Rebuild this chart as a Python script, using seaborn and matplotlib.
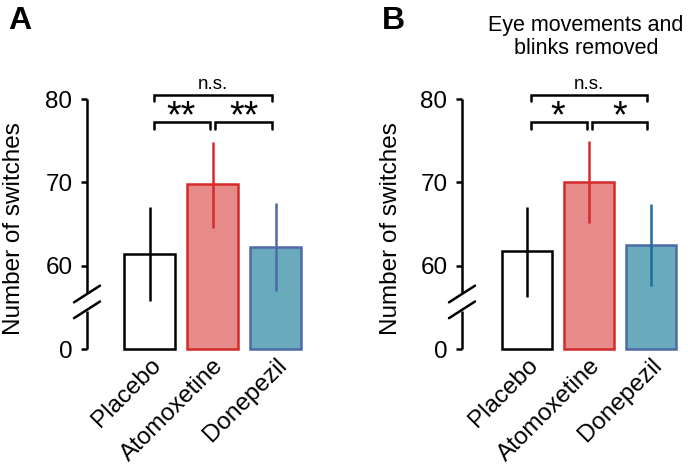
import matplotlib
matplotlib.use("Agg")
import matplotlib.pyplot as plt
import seaborn as sns
import numpy as np

# ---------------- data ----------------
categories = ["Placebo", "Atomoxetine", "Donepezil"]
means_a = [61.4, 69.8, 62.2]
err_lo_a = [55.7, 64.5, 56.9]
err_hi_a = [67.1, 74.8, 67.5]
means_b = [61.7, 70.0, 62.5]
err_lo_b = [56.2, 65.1, 57.6]
err_hi_b = [67.1, 75.0, 67.4]
stars_a = ["**", "**"]
stars_b = ["*", "*"]
ytick_vals = [50, 60, 70, 80]
ytick_labels = ["0", "60", "70", "80"]
title_b = "Eye movements and\nblinks removed"

# ---------------- style ----------------
sns.set_style("white")
plt.rcParams["font.family"] = ["Liberation Sans", "DejaVu Sans"]
for k in ["text.color", "axes.labelcolor", "xtick.color", "ytick.color"]:
    plt.rcParams[k] = "black"

fills = ["#ffffff", "#e68a8a", "#6aaabd"]
edges = ["#000000", "#d42a2a", "#4e68a8"]
err_cols_a = ["#000000", "#d42a2a", "#4e68a8"]
err_cols_b = ["#000000", "#d42a2a", "#1e6e9b"]

BASE = 50.0          # axis break: bottom of the axis stands for 0
LW = 1.8

fig = plt.figure(figsize=(6.88, 4.69), dpi=100)
ax_a = fig.add_axes([87 / 688, 120 / 469, 217 / 688, 250 / 469])
ax_b = fig.add_axes([462 / 688, 120 / 469, 217 / 688, 250 / 469])


def draw_panel(ax, means, lo, hi, errc, stars, xlim_left, label_x):
    sns.barplot(x=categories, y=means, hue=categories, palette=fills,
                order=categories, hue_order=categories, legend=False,
                width=0.81, ax=ax, errorbar=None, saturation=1)
    for p, m, ec in zip(ax.patches, means, edges):
        p.set_y(BASE)
        p.set_height(m - BASE)
        p.set_edgecolor(ec)
        p.set_linewidth(LW)
        p.set_clip_on(False)
    xs = np.arange(len(categories))
    ax.vlines(xs, lo, hi, colors=errc, linewidth=LW, zorder=5)

    ax.set_ylim(BASE, 80)
    ax.set_xlim(xlim_left, 2.45)
    ax.set_yticks(ytick_vals)
    ax.set_yticklabels(ytick_labels, fontsize=17.5)
    ax.tick_params(axis="y", direction="out", length=4.5, width=LW,
                   pad=6, left=True, color="black")
    ax.tick_params(axis="x", length=0, pad=0)
    for s in ["top", "right", "bottom", "left"]:
        ax.spines[s].set_visible(False)

    # broken left axis
    tr = ax.get_yaxis_transform()
    ax.plot([0, 0], [BASE, 54.6], transform=tr, color="black", lw=LW,
            clip_on=False, solid_capstyle="butt")
    ax.plot([0, 0], [56.7, 80], transform=tr, color="black", lw=LW,
            clip_on=False, solid_capstyle="butt")
    dx = 13 / 217
    for yc in [56.6, 54.7]:
        ax.plot([-dx, dx], [yc - 1.0, yc + 1.0], transform=tr, color="black",
                lw=LW, clip_on=False)

    # category labels
    ax.set_xticks(xs)
    ax.set_xticklabels([])
    for x, c in zip(xs, categories):
        ax.text(x + 0.12, 48.4, c, rotation=45, ha="right", va="center",
                rotation_mode="anchor", fontsize=17.5)

    ax.set_ylabel("Number of switches", fontsize=17.5)
    ax.yaxis.set_label_coords(label_x, 0.48)

    # significance brackets
    d = 0.78
    def bracket(x0, x1, y):
        ax.plot([x0, x0, x1, x1], [y - d, y, y, y - d], color="black",
                lw=LW, clip_on=False, solid_joinstyle="miter")
    bracket(0.06, 1.94, 80.5)
    bracket(0.06, 0.96, 77.2)
    bracket(1.04, 1.94, 77.2)
    ax.text(1.0, 81.2, "n.s.", ha="center", va="baseline", fontsize=13.5)
    for xm, s in zip([0.5, 1.5], stars):
        ax.text(xm, 76.6, s, ha="center", va="baseline", fontsize=27)


draw_panel(ax_a, means_a, err_lo_a, err_hi_a, err_cols_a, stars_a, -1.0,
           -62 / 217)
draw_panel(ax_b, means_b, err_lo_b, err_hi_b, err_cols_b, stars_b, -1.05,
           -60 / 217)

ax_b.text(0.95, 1.335, title_b, transform=ax_b.get_xaxis_transform(),
          ha="center", va="top", fontsize=15.5, linespacing=1.1)

fig.text(8 / 688, 1 - 6 / 469, "A", fontsize=23, fontweight="bold",
         ha="left", va="top")
fig.text(382 / 688, 1 - 6 / 469, "B", fontsize=23, fontweight="bold",
         ha="left", va="top")

fig.savefig("out.png", dpi=100)
